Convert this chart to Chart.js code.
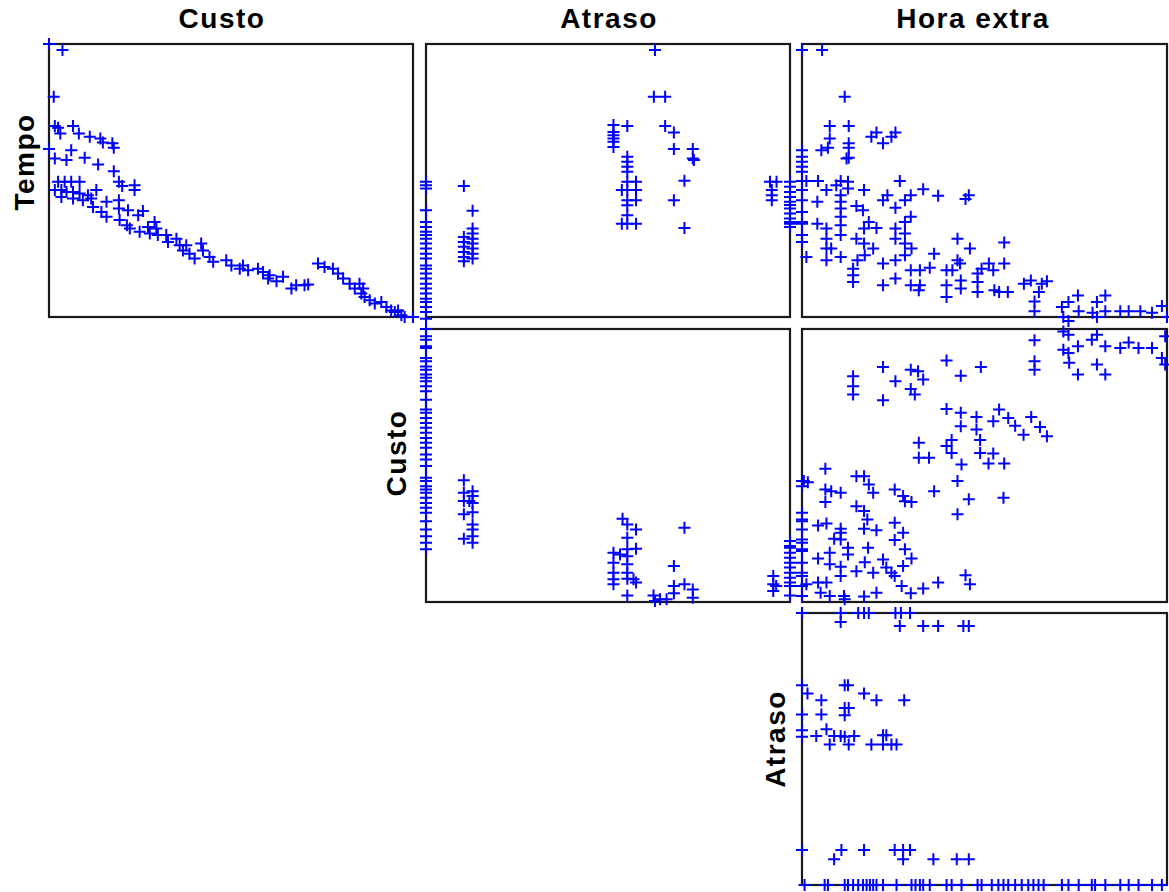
<!DOCTYPE html>
<html>
<head>
<meta charset="utf-8">
<script src="https://cdn.jsdelivr.net/npm/chart.js@4.4.1/dist/chart.umd.min.js"></script>
<style>
body { margin: 0; background: #fff; overflow: hidden; width: 1169px; height: 892px; position: relative; }
canvas { position: absolute; }
.lbl { position: absolute; font-family: "Liberation Sans", Arial, sans-serif; font-weight: bold; font-size: 28px; letter-spacing: 1.5px; color: #000; white-space: nowrap; }
.rot { transform: translate(-50%, -50%) rotate(-90deg); }
.top { transform: translateX(-50%); }
</style>
</head>
<body>
<div class="lbl top" style="left:222px; top:3px;">Custo</div>
<div class="lbl top" style="left:609px; top:3px;">Atraso</div>
<div class="lbl top" style="left:973px; top:3px;">Hora extra</div>
<div class="lbl rot" style="left:25px; top:162px;">Tempo</div>
<div class="lbl rot" style="left:397px; top:453px;">Custo</div>
<div class="lbl rot" style="left:776px; top:739px;">Atraso</div>

<canvas id="p1"></canvas>
<canvas id="p2"></canvas>
<canvas id="p3"></canvas>
<canvas id="p4"></canvas>
<canvas id="p5"></canvas>
<canvas id="p6"></canvas>

<script>
// scaled values (0-100 within each variable's range)
var tempoCusto = [
  [0,100],[3.7,97.8],[1.3,80.7],[1.6,70],[2.5,69.3],[3.1,67.2],[6.6,70],[8.2,67.2],[11.2,66],[14.1,65.4],
  [14.8,63.9],[17.4,63.6],[17.8,62],[0,61.5],[6.1,61.1],[1.6,58.1],[4.8,57.5],[9.8,58.3],[13.5,55.9],[17.8,53.4],
  [19.2,49.5],[20.1,48],[23.5,48.3],[23.5,46.5],[2.5,49.5],[4.3,49.5],[6.1,49.5],[8.4,49.5],[1.6,46.5],[3.4,46.5],
  [4.8,45.8],[6.6,45.8],[8.4,45.2],[10.7,44.6],[13,46.5],[3.4,44],[6.6,43.4],[9.3,42.8],[11.6,43.4],[12.1,40.3],
  [15.8,42.2],[14.4,38.5],[15.8,36.7],[19.2,42.8],[19.2,39.7],[21.7,39.1],[24.5,37.3],[25.8,38.8],[19.4,35.5],[21.4,33.6],
  [22.2,32.4],[24.9,31.2],[27.2,33],[29,34.8],[29.5,32.4],[27.7,30.6],[29.9,30],[32.2,30],[32.7,27.5],[35,28.7],
  [35.9,26.3],[37.7,26.3],[36.8,24.4],[38.6,23.2],[40,21.4],[41.8,26.9],[42.3,24.4],[44.1,22],[45.1,20.2],[48.7,20.8],
  [50.1,18.9],[52.4,17.7],[53.3,18.9],[54.7,17.1],[57.4,17.7],[58.8,16.5],[60.6,15.3],[60.2,14.1],[62.5,13.1],[64.3,14.7],
  [66.6,10.4],[67.9,11.6],[70.2,11.6],[71.2,11.9],[73.9,19.6],[75.7,18.3],[78,17.7],[79.4,15.9],[80.8,14.1],[82.6,12.2],
  [84,10.4],[85.3,12.2],[86.3,10.4],[85.8,8.6],[86.7,7.3],[88.1,6.1],[89.5,4.9],[91.3,5.5],[92.7,3.7],[94,2.4],
  [95,1.8],[95.9,2.4],[96.8,0.6],[97.7,0],[100,0]
];

var tempoAtraso = [
  [0,49.5],[0,48.3],[0,47.1],[0,39.1],[0,34.8],[0,33],[0,31.2],[0,30],[0,28.7],[0,26.9],
  [0,25.1],[0,23.2],[0,21.4],[0,18.9],[0,17.7],[0,15.9],[0,14.1],[0,12.2],[0,10.4],[0,8.6],
  [0,6.7],[0,5.5],[0,3.7],[0,1.8],[0,-0.6],
  [10.4,48],[12.8,38.9],[12.8,32.4],[12.8,30.6],[10.4,29.3],[10.4,27.5],[10.4,25.7],[10.4,23.8],[10.4,22],[10.4,20.4],
  [12.8,28.7],[12.8,26.9],[12.8,25.1],[12.8,23.2],[12.8,21.4],
  [51.5,70.3],[51.5,67.8],[51.5,66.6],[51.5,65.4],[51.5,64.2],[51.5,62.3],[55.3,70],
  [55.3,58.7],[55.3,56.9],[55.3,55],[55.3,53.2],[55.3,49.5],[55.3,46.5],[55.3,42.8],[55.3,40.9],[55.3,37.3],[55.3,34.2],
  [53.8,46.5],[53.8,34.2],[57.7,49.5],[57.7,46.5],[57.7,42.8],[57.7,34.2],
  [62.9,97.8],[62.6,80.7],[65.7,80.7],[65.7,70],[68.1,67.6],[68.1,61.5],[73.3,61.5],[73.3,58.1],[73.6,57.5],
  [71,49.9],[68.1,42.8],[71,32.6],
  [94.5,49.5],[96.3,49.5],[95,46.5],[95,44.6],[95,42.8],
  [100,49.5],[100,47.7],[100,45.8],[100,44],[100,42.2],[100,41],[100,39.7],[100,37.9],[100,36.1],[100,34.8],[100,34.2],[100,33]
];

var tempoHora = [
  [0,97.8],[5.5,97.8],[11.7,80.7],[7.6,70],[7.6,65.4],[5.3,61.1],[7.1,62],[12.8,70],[12.8,63.6],[12.8,62],
  [12.2,58.1],[12.8,58.3],[19,66],[20.4,67.6],[22.2,63.6],[24.5,66],[25.6,67.6],
  [0,61.1],[0,58.7],[0,56.9],[0,55],[0,53.2],[0,49.8],[0,46.5],[0,42.8],[0,38.5],[0,34.8],[0,34.2],[0,30],[0,27.5],
  [1.2,22],[1.2,49.8],[4.4,49.8],[6.7,46.5],[9.4,48.3],[10.6,49.8],[10.6,44.6],[10.6,42.2],[10.6,39.7],[10.6,36.7],
  [10.6,33.6],[10.6,30],[12.6,47.1],[12.6,49.5],[17,46.5],[4.2,42.2],[4.2,34.2],[6.7,32.4],[6.7,28.7],[6.7,25.1],
  [8,25.1],[6.7,20.8],[10.6,22],[14.9,40.7],[16.7,39.1],[18.3,34.8],[17,32.4],[20.4,32.6],[14.9,28.7],[17,26.9],
  [19.5,25.1],[17.2,22.6],[15.2,20.8],[14,17.7],[14,15.3],[14,12.8],[22.2,42.8],[23.4,44.6],[25.6,40],[26.8,49.8],
  [28.2,42.8],[29.8,44.6],[29.8,36.7],[28.2,34.8],[25.6,32.4],[25.6,28.7],[28.2,30.6],[28.2,26.9],[30,25.1],[28.2,22.6],
  [25.6,20.8],[22.2,19.6],[22.2,11.6],[25.6,14.1],[33.2,46.8],[37.3,44.4],[44.8,43.2],[45.7,44.6],
  [29.8,17.1],[32.3,17.1],[35,18],[29.8,11.6],[32.3,11.6],[32,9.8],[36.2,23.2],[39.6,17.1],[41.2,17.1],[39.6,11.6],
  [39.6,7.3],[42.6,28.7],[46,25.1],[42.6,20.8],[43.3,19.6],[43.5,13.4],[43.5,10.4],[48.1,15.9],[48.1,12.8],[48.1,9.2],
  [49.2,17.7],[51.2,19.6],[52.4,17.1],[52.7,9.8],[54,9.2],[56.4,9.2],[55.4,27.3],[55.4,19.6],
  [60.8,12.2],[62.7,13.4],[64.9,9.2],[65.7,12.2],[67.1,13.1],[63.7,5.7],[63.7,2.1],
  [71.2,3.7],[73,5.5],[75.6,7.9],[75.8,2.1],[71.6,0],[73,-1.5],[79.6,1.6],[80.8,5.5],[83.1,7.9],[83.1,2.1],[80.8,0],
  [87.2,2.1],[89.5,2.1],[92.7,2.1],[95.9,1.6],[98.6,4],[100,0]
];

var custoAtraso = [
  [0,100],[0,97.3],[0,96.1],[0,93.7],[0,93],[0,89.4],[0,88.2],[0,86.3],[0,85.1],[0,83.3],[0,82.1],[0,80.9],
  [0,79],[0,77.2],[0,74.1],[0,70.5],[0,69.3],[0,67.4],[0,65.6],[0,63.8],[0,62],[0,60.1],[0,58.3],[0,56.5],
  [0,54],[0,52.2],[0,49.8],[0,45.5],[0,44.3],[0,42.4],[0,41.2],[0,40],[0,38.2],[0,36.3],[0,34.5],[0,32.7],
  [0,29.6],[0,26.6],[0,24.1],[0,21.7],[0,19.3],
  [10.4,44.6],[10.4,40],[10.4,37],[10.4,32.1],[10.4,23.2],[12.8,40.6],[12.8,38.8],[12.8,36.3],[12.8,32.9],[12.8,28.4],
  [12.8,26.6],[12.8,24.1],[12.8,21.7],[11.9,37],
  [54,30.5],[55.3,28.4],[57.7,26.6],[55.3,23.5],[55.3,19.3],[57.7,19.5],[51.5,18],[51.5,14.4],[51.5,10.7],[51.5,8.3],
  [51.5,6.5],[53.3,17.4],[55.3,16.8],[55.3,13.8],[55.3,10.7],[55.3,8.5],[57.7,7.1],[57,8.3],[55.3,2.4],
  [62.5,2.4],[64.3,1],[66.1,1],[62.9,0.4],[68.1,13.2],[68.1,5.9],[68.1,3.2],[71,27.2],[71,6.5],[73.3,4.6],[73.3,1.6],
  [95.4,9.5],[95.4,6.5],[96.2,5.9],[95.4,4],
  [100,22.3],[100,20.5],[100,19.9],[100,18],[100,16.2],[100,14.4],[100,12.6],[100,10.7],[100,8.9],[100,7.1],[100,5.9],[100,2.4]
];

var custoHora = [
  [63.7,95.9],[63.7,88.2],[63.7,85.1],[71.6,99.1],[73,97.9],[71.6,92.4],[73,91.2],[73.2,87.6],[75.6,93.7],[75.6,83.3],
  [79.4,96.1],[80.8,97.9],[83.1,93.7],[80.8,87],[83.1,83.3],[87.2,93],[89.5,95.1],[92.2,93],[95.9,93],[98.6,89.4],
  [99.5,97.3],[99.5,87],
  [14,82.7],[14,79],[14,76],[22.2,86.1],[22.2,73.9],[25.6,80.9],[29.8,85.1],[31.8,84.5],[33.2,81.5],[29.8,78],[30.9,76],
  [39.6,88.5],[43.5,82.9],[49,86.1],[39.6,70.7],[43.5,69.3],[43.5,64.4],[47.8,67.8],[47.8,63.2],[52.4,66.2],[54,70.5],
  [56.5,67.4],[58.4,64.6],[60.7,61.3],[62.8,67.8],[65.2,64.1],[67.1,60.7],
  [32,58.3],[32,52.8],[34.8,52.8],[39.6,57.1],[41,59.3],[41,54.6],[43.7,50.4],[48.8,59.3],[48.8,54.6],[52.4,54.4],
  [51.1,50.7],[55.4,50.7],[42.6,44.3],[36.2,40.6],[45.7,37.6],[42.6,32.1],[55.2,38.2],
  [6.4,48.8],[0.5,44.3],[1.6,43.9],[6.4,41.2],[6.4,36.6],[8,40.6],[10.6,40],[14.9,46.1],[17,46.1],[18.3,43],[19.5,40],
  [25.4,41.2],[27.7,38.8],[28.2,36.9],[30,36.6],[14.9,35.1],[17,33.3],[17.9,30.2],[17,26.8],[20.4,26.3],
  [25.4,29],[27.7,25.4],[25.4,22.7],[28.2,19.3],[4.4,28],[6.7,28.8],[10.6,26.8],[8.8,23.2],[10.6,22.9],[12.6,19.9],
  [12.6,17.4],[10.6,25.4],[18.1,19.9],[4.4,15.9],[7.6,18],[7.6,13.8],[10.6,12.9],[10.6,9.5],[17.2,14.6],[14.9,11.3],
  [19.5,10.7],[22.2,15.6],[23.1,12.6],[24.5,10.7],[25.4,9.5],[27.7,13.2],[30,15.9],[27.3,5.9],[29.8,3.2],[33.2,4.9],
  [37.3,7.1],[44.8,9.8],[46,6.5],[1.2,6.5],[4.4,7.1],[6.7,7.1],[5.1,3.4],[7.6,2.2],[11.5,2.2],[11.7,1],[17,2],[20.4,3.4],
  [0,44.3],[0,42.4],[0,32.7],[0,30.2],[0,29.6],[0,26.6],[0,22.9],[0,21.7],[0,19.3],[0,18.7],[0,14.4],[0,10.7],
  [0,9.5],[0,5.9],[0,2.2]
];

var atrasoHora = [
  [0,100],[10.6,96.7],[10.6,100],[15.4,100],[17,100],[18.3,100],[25.6,100],[27.1,100],[29.6,100],
  [26.8,95.2],[33.2,95.2],[37.3,95.2],[44.2,95.2],[45.7,95.2],
  [0,73.4],[1.5,70.4],[5.3,67.9],[0,62.7],[5.3,62.7],[11.7,73.4],[12.6,73.4],[17,70.4],[20.4,67.9],[28,67.9],
  [11.7,65.1],[12.8,65.1],[11.7,62.4],[0,56.9],[0,54.5],[3.9,54.8],[6.7,57.3],[7.6,51.7],[8.8,54.8],[10.6,54.8],
  [11.7,54.5],[12.8,51.7],[14.3,54.8],[19,51.7],[22.2,55.1],[23.1,55.1],[22.2,51.7],[24.5,51.7],[25.9,51.7],
  [0,12.9],[10.8,12.9],[8.8,9.5],[17,12.9],[25.4,12.9],[27.7,12.9],[29.6,12.9],[27.7,9.5],[36,9.5],[42.4,9.5],[45.7,9.5],
  [0.7,0],[6.2,0],[7.1,0],[11.7,0],[12.6,0],[14,0],[15.4,0],[16.7,0],[17.7,0],[18.6,0],[19.5,0],[20.4,0],[22.2,0],
  [25.9,0],[30,0],[31.1,0],[32.3,0],[33.2,0],[35,0],[39.6,0],[41,0],[43.7,0],[48.1,0],[49.2,0],[52,0],[53.8,0],
  [55.2,0],[56.5,0],[58.4,0],[60.2,0],[62,0],[63.4,0],[64.8,0],[66.2,0],[71.2,0],[73,0],[75.8,0],[79.4,0],[80.3,0],
  [83.1,0],[87.2,0],[89.5,0],[92.2,0],[95.9,0],[98.6,0]
];

var PAD = 10;

var frame = {
  id: 'frame',
  beforeDatasetsDraw: function(chart) {
    var a = chart.chartArea, c = chart.ctx;
    c.save();
    c.strokeStyle = '#1a1a1a';
    c.lineWidth = 2.2;
    c.strokeRect(a.left, a.top, a.right - a.left, a.bottom - a.top);
    c.restore();
  }
};

function panel(id, box, pts) {
  var cv = document.getElementById(id);
  var w = box[2] - box[0] + 2 * PAD, h = box[3] - box[1] + 2 * PAD;
  cv.style.left = (box[0] - PAD) + 'px';
  cv.style.top = (box[1] - PAD) + 'px';
  cv.style.width = w + 'px';
  cv.style.height = h + 'px';
  cv.width = w; cv.height = h;
  return new Chart(cv, {
    type: 'scatter',
    data: {
      datasets: [{
        data: pts.map(function(p) { return { x: p[0], y: p[1] }; }),
        pointStyle: 'cross',
        radius: 6,
        borderColor: '#0000ff',
        backgroundColor: '#0000ff',
        borderWidth: 2,
        clip: false
      }]
    },
    options: {
      responsive: false,
      animation: false,
      events: [],
      layout: { padding: PAD },
      plugins: { legend: { display: false }, tooltip: { enabled: false } },
      scales: {
        x: { type: 'linear', min: 0, max: 100, display: false },
        y: { type: 'linear', min: 0, max: 100, display: false }
      }
    },
    plugins: [frame]
  });
}

panel('p1', [49, 44, 413, 317], tempoCusto);
panel('p2', [426, 44, 790, 317], tempoAtraso);
panel('p3', [802, 44, 1167, 317], tempoHora);
panel('p4', [426, 329, 790, 602], custoAtraso);
panel('p5', [802, 329, 1167, 602], custoHora);
panel('p6', [802, 613, 1167, 885], atrasoHora);
</script>
</body>
</html>
